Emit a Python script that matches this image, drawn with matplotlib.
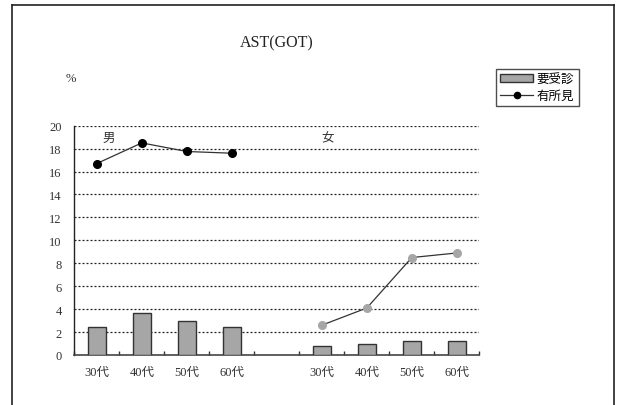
import matplotlib
matplotlib.use("Agg")
import matplotlib.pyplot as plt
from matplotlib.lines import Line2D
from matplotlib.patches import Patch
import numpy as np

plt.rcParams['font.family'] = ['Liberation Serif', 'Noto Sans CJK JP', 'DejaVu Sans']

# ---- data ----
title = "AST(GOT)"
age_labels = ['30代', '40代', '50代', '60代']
group_labels = ['男', '女']
series_names = ['要受診', '有所見']
male_need = [2.4, 3.7, 3.0, 2.4]          # 要受診 (bars)
female_need = [0.75, 1.0, 1.25, 1.2]
male_finding = [16.7, 18.5, 17.75, 17.6]  # 有所見 (line)
female_finding = [2.6, 4.1, 8.5, 8.9]
y_ticks = [0, 2, 4, 6, 8, 10, 12, 14, 16, 18, 20]

W, H = 622, 406
fig = plt.figure(figsize=(W / 100, H / 100), dpi=100)

# outer frame
frame_kw = dict(color='#222222', lw=1.2, transform=fig.transFigure)
xl, xr, yt = 12.3 / W, 614.3 / W, 1 - 5.7 / H
fig.add_artist(Line2D([xl, xl], [-0.05, yt], **frame_kw))
fig.add_artist(Line2D([xl, xr], [yt, yt], **frame_kw))
fig.add_artist(Line2D([xr, xr], [-0.05, yt], **frame_kw))

left, right = 74.3 / W, 479.3 / W
bottom, top = 1 - 356 / H, 1 - 126.7 / H
ax = fig.add_axes([left, bottom, right - left, top - bottom])

n = len(age_labels)
x_m = np.arange(n)
x_f = np.arange(n) + n + 1

bar_kw = dict(width=0.4, color='#a6a6a6', edgecolor='#333333', linewidth=1.0, zorder=3)
ax.bar(x_m, male_need, **bar_kw)
ax.bar(x_f, female_need, **bar_kw)

ax.plot(x_m, male_finding, color='#333333', lw=0.9, marker='o', ms=5.5,
        mfc='black', mec='black', zorder=4)
ax.plot(x_f, female_finding, color='#333333', lw=0.9, marker='o', ms=5.5,
        mfc='#a6a6a6', mec='#a6a6a6', zorder=4)

ax.set_xlim(-0.5, 2 * n + 0.5)
ax.set_ylim(0, 20)
ax.set_yticks(y_ticks)
ax.tick_params(axis='y', length=0, pad=9, labelsize=9, labelcolor='#333333')

for y in y_ticks[1:]:
    ax.axhline(y, color='#222222', lw=0.9, ls=(0, (1.6, 1.6)), zorder=1)

ax.set_xticks(np.arange(-0.5, 2 * n + 1, 1))
ax.set_xticklabels([])
ax.tick_params(axis='x', which='major', direction='in', length=3, width=1, color='#333333')
ax.set_xticks(list(x_m) + list(x_f), minor=True)
ax.set_xticklabels(age_labels + age_labels, minor=True)
ax.tick_params(axis='x', which='minor', length=0, pad=8, labelsize=9, labelcolor='#333333')

for s in ['top', 'right']:
    ax.spines[s].set_visible(False)
ax.spines['left'].set_color('#222222')
ax.spines['bottom'].set_color('#444444')
ax.spines['left'].set_linewidth(1.0)
ax.spines['bottom'].set_linewidth(1.2)

ax.text(0.27, 18.9, group_labels[0], ha='center', va='center', fontsize=9, color='#333333')
ax.text(5.14, 18.9, group_labels[1], ha='center', va='center', fontsize=9, color='#333333')

fig.text(277 / W, 1 - 43 / H, title, ha='center', va='center', fontsize=11.5, color='#222222')
fig.text(70.5 / W, 1 - 79 / H, '%', ha='center', va='center', fontsize=9, color='#333333')

handles = [Patch(facecolor='#a6a6a6', edgecolor='#333333', linewidth=1.0),
           Line2D([], [], color='#333333', lw=0.9, marker='o', ms=4.5, mfc='black', mec='black')]
leg = fig.legend(handles, series_names, loc='upper left',
                 bbox_to_anchor=(496 / W, 1 - 70 / H), borderaxespad=0,
                 frameon=True, fancybox=False, edgecolor='#222222',
                 fontsize=9, handlelength=2.6, handleheight=0.5, handletextpad=0.3,
                 borderpad=0.35, labelspacing=0.35)
leg.get_frame().set_linewidth(1.0)

fig.savefig('out.png', dpi=100)
